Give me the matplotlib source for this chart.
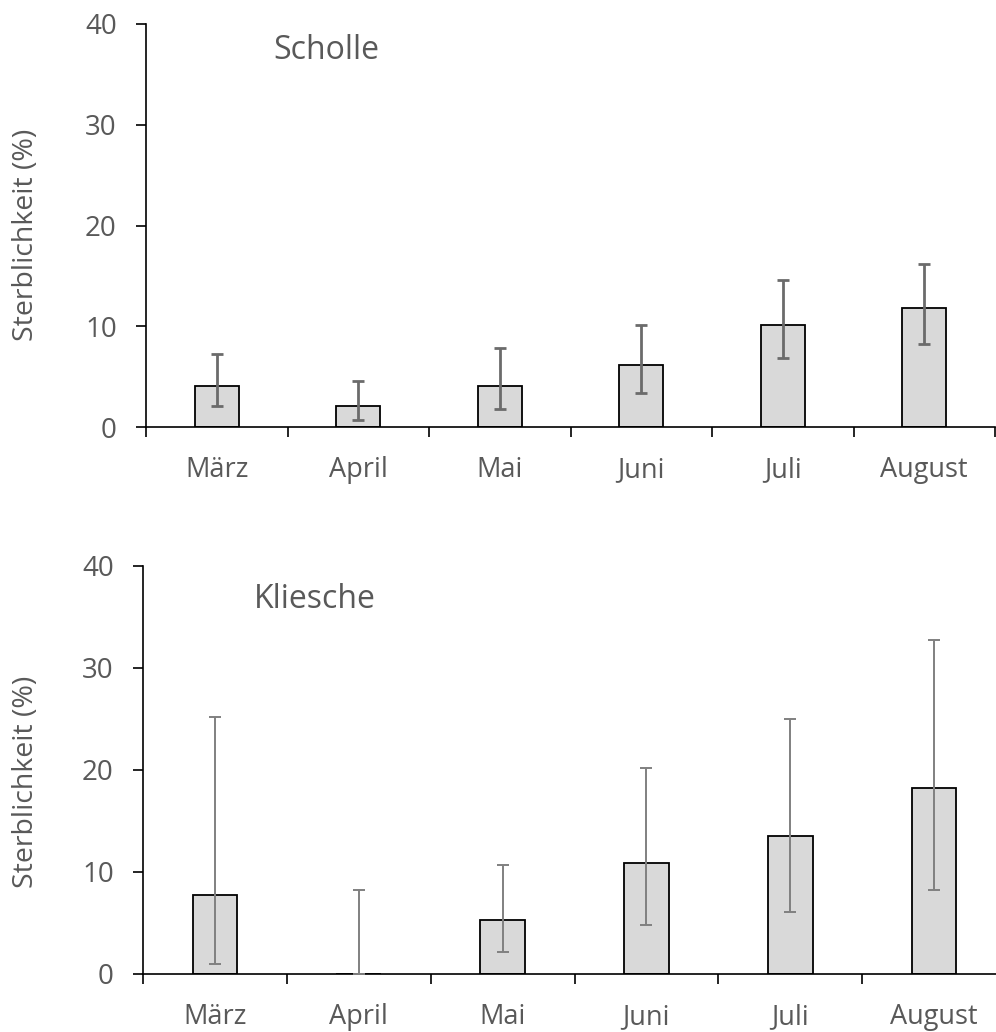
import matplotlib.pyplot as plt
import numpy as np

months = ['März', 'April', 'Mai', 'Juni', 'Juli', 'August']

# Scholle: Mittelwert und Konfidenzgrenzen (%)
scholle = [4.1, 2.05, 4.1, 6.15, 10.15, 11.85]
scholle_lo = [2.1, 0.7, 1.8, 3.4, 6.8, 8.25]
scholle_hi = [7.2, 4.6, 7.85, 10.1, 14.55, 16.2]

# Kliesche
kliesche = [7.7, 0.0, 5.3, 10.85, 13.55, 18.2]
kliesche_lo = [0.95, 0.0, 2.2, 4.8, 6.05, 8.2]
kliesche_hi = [25.15, 8.2, 10.65, 20.2, 25.0, 32.75]

plt.rcParams['font.family'] = ['Open Sans', 'DejaVu Sans']
text_grey = '#595959'

W, H = 996, 1032
fig = plt.figure(figsize=(W / 100, H / 100), dpi=100)

panels = [
    ('Scholle', scholle, scholle_lo, scholle_hi, (146, 24, 995, 427), '#6b6b6b', 2.0,
     (0.15, 0.935), 235),
    ('Kliesche', kliesche, kliesche_lo, kliesche_hi, (143, 566, 1006, 974), '#808080', 1.4,
     (0.128, 0.918), 782),
]

for name, vals, lo, hi, (x0, y0, x1, y1), ecol, elw, tpos, lab_y in panels:
    ax = fig.add_axes([x0 / W, 1 - y1 / H, (x1 - x0) / W, (y1 - y0) / H])
    x = np.arange(len(months))
    vals = np.array(vals)
    yerr = [vals - np.array(lo), np.array(hi) - vals]
    ax.bar(x, vals, width=0.31, color='#d9d9d9', edgecolor='black', linewidth=1.3, zorder=2)
    ax.errorbar(x, vals, yerr=yerr, fmt='none', ecolor=ecol, elinewidth=elw,
                capsize=4.5, capthick=elw, zorder=3)
    ax.set_xlim(-0.5, 5.5)
    ax.set_ylim(0, 40)
    ax.set_yticks([0, 10, 20, 30, 40])
    ax.set_xticks(x)
    ax.set_xticklabels(months)
    ax.set_xticks(np.arange(-0.5, 6.0, 1.0), minor=True)
    ax.tick_params(axis='x', which='major', length=0, pad=21, labelsize=19.5, labelcolor=text_grey)
    ax.tick_params(axis='x', which='minor', length=7, width=1.2, direction='out')
    ax.tick_params(axis='y', length=7, width=1.2, pad=14, labelsize=20, labelcolor=text_grey)
    for s in ['top', 'right']:
        ax.spines[s].set_visible(False)
    for s in ['left', 'bottom']:
        ax.spines[s].set_linewidth(1.2)
    ax.set_ylabel('Sterblichkeit (%)', fontsize=20.5, color=text_grey)
    ax.yaxis.set_label_coords((40 - x0) / (x1 - x0), (y1 - lab_y) / (y1 - y0))
    ax.text(tpos[0], tpos[1], name, transform=ax.transAxes, fontsize=23,
            color=text_grey, va='center', ha='left')

fig.savefig('out.png', dpi=100)
